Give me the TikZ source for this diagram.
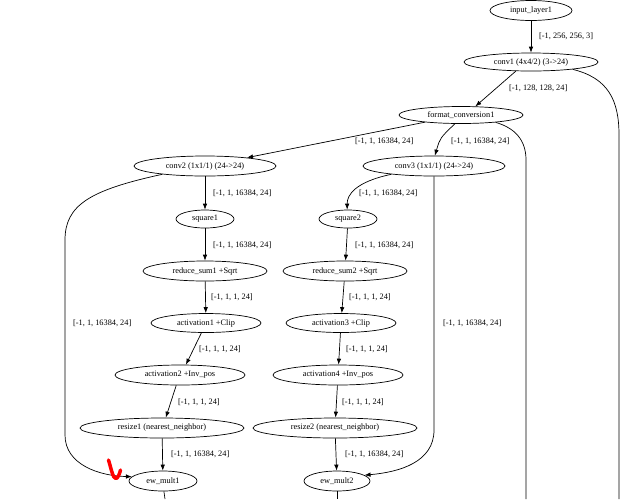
\documentclass[tikz,border=0pt]{standalone}
\usepackage{fontspec}
\setmainfont{Liberation Serif}
\usetikzlibrary{shapes.geometric,arrows.meta}
\begin{document}
\begin{tikzpicture}[x=1pt,y=-1pt,
  nd/.style={ellipse,draw,line width=0.7pt,inner sep=0pt,font=\fontsize{8.3}{10}\selectfont},
  lb/.style={font=\fontsize{8.3}{10}\selectfont,inner sep=0pt,anchor=west},
  ed/.style={line width=0.7pt,-{Latex[length=6pt,width=4.5pt]}},
  pl/.style={line width=0.7pt}]
\useasboundingbox[fill=white] (0,0) rectangle (642,499);
% nodes
\node[nd,minimum width=82pt,minimum height=20pt] (in) at (531,10.5) {input\_layer1};
\node[nd,minimum width=134pt,minimum height=18pt] (c1) at (531,62) {conv1 (4x4/2) (3->24)};
\node[nd,minimum width=124pt,minimum height=17pt] (fc) at (461,115) {format\_conversion1};
\node[nd,minimum width=142pt,minimum height=20pt] (cv2) at (205,166) {conv2 (1x1/1) (24->24)};
\node[nd,minimum width=142pt,minimum height=20pt] (cv3) at (434,166) {conv3 (1x1/1) (24->24)};
\node[nd,minimum width=58pt,minimum height=18pt] (sq1) at (205,219) {square1};
\node[nd,minimum width=58pt,minimum height=18pt] (sq2) at (348,219) {square2};
\node[nd,minimum width=124pt,minimum height=20pt] (rs1) at (205,271) {reduce\_sum1 +Sqrt};
\node[nd,minimum width=124pt,minimum height=20pt] (rs2) at (345,271) {reduce\_sum2 +Sqrt};
\node[nd,minimum width=110pt,minimum height=19pt] (a1) at (206,323) {activation1 +Clip};
\node[nd,minimum width=110pt,minimum height=19pt] (a3) at (341,323) {activation3 +Clip};
\node[nd,minimum width=130pt,minimum height=20pt] (a2) at (180,375) {activation2 +Inv\_pos};
\node[nd,minimum width=130pt,minimum height=20pt] (a4) at (338,375) {activation4 +Inv\_pos};
\node[nd,minimum width=164pt,minimum height=20pt] (rz1) at (162,428) {resize1 (nearest\_neighbor)};
\node[nd,minimum width=164pt,minimum height=20pt] (rz2) at (335,428) {resize2 (nearest\_neighbor)};
\node[nd,minimum width=68pt,minimum height=20pt] (em1) at (163,481) {ew\_mult1};
\node[nd,minimum width=66pt,minimum height=20pt] (em2) at (337,481) {ew\_mult2};
% free ends
\coordinate (c1end) at (619,499);
\coordinate (fcend) at (526,499);
\coordinate (em1end) at (165,499);
\coordinate (em2end) at (337,499);
% edges
\draw[ed] (in) -- (c1);
\node[lb] at (539,36) {[-1, 256, 256, 3]};
\draw[ed] (c1.211) -- (fc.31);
\node[lb] at (509,88) {[-1, 128, 128, 24]};
\draw[pl] (c1.-10) .. controls (608,78) and (619,100) .. (619,135) -- (c1end);
\draw[ed] (fc) -- (cv2);
\node[lb] at (355,141) {[-1, 1, 16384, 24]};
\draw[ed] (fc.235) .. controls (440,138) .. (cv3.85);
\node[lb] at (451,141) {[-1, 1, 16384, 24]};
\draw[pl] (fc.-12) .. controls (515,128) and (526,140) .. (526,160) -- (fcend);
\draw[ed] (cv2) -- (sq1);
\node[lb] at (213,193) {[-1, 1, 16384, 24]};
\draw[ed] (cv2.191) .. controls (90,190) and (65,205) .. (65,240) -- (65,435) .. controls (65,465) and (100,476) .. (em1.172);
\node[lb] at (73,323) {[-1, 1, 16384, 24]};
\draw[ed] (cv3.191) .. controls (355,182) and (347,195) .. (sq2.95);
\node[lb] at (359,193) {[-1, 1, 16384, 24]};
\draw[ed] (cv3.south) -- (434,430) .. controls (434,462) and (400,472) .. (em2.12);
\node[lb] at (443,323) {[-1, 1, 16384, 24]};
\draw[ed] (sq1) -- (rs1);
\node[lb] at (213,245) {[-1, 1, 16384, 24]};
\draw[ed] (sq2) -- (rs2);
\node[lb] at (355,245) {[-1, 1, 16384, 24]};
\draw[ed] (rs1) -- (a1);
\node[lb] at (211,297) {[-1, 1, 1, 24]};
\draw[ed] (rs2) -- (a3);
\node[lb] at (349,297) {[-1, 1, 1, 24]};
\draw[ed] (a1.-115) -- (a2.60);
\node[lb] at (199,349) {[-1, 1, 1, 24]};
\draw[ed] (a3) -- (a4);
\node[lb] at (346,349) {[-1, 1, 1, 24]};
\draw[ed] (a2.-110) -- (rz1.70);
\node[lb] at (178,402) {[-1, 1, 1, 24]};
\draw[ed] (a4) -- (rz2);
\node[lb] at (342,402) {[-1, 1, 1, 24]};
\draw[ed] (rz1) -- (em1);
\node[lb] at (171,454) {[-1, 1, 16384, 24]};
\draw[ed] (rz2) -- (em2);
\node[lb] at (345,454) {[-1, 1, 16384, 24]};
\draw[pl] (em1.-85) -- (em1end);
\draw[pl] (em2) -- (em2end);
% red hand mark
\draw[red,line width=3.5pt,line cap=round,line join=round] (108.5,460) .. controls (111,468) and (113,479) .. (116,478.5) .. controls (118,478) and (119.5,474) .. (120.5,470);
\end{tikzpicture}
\end{document}
